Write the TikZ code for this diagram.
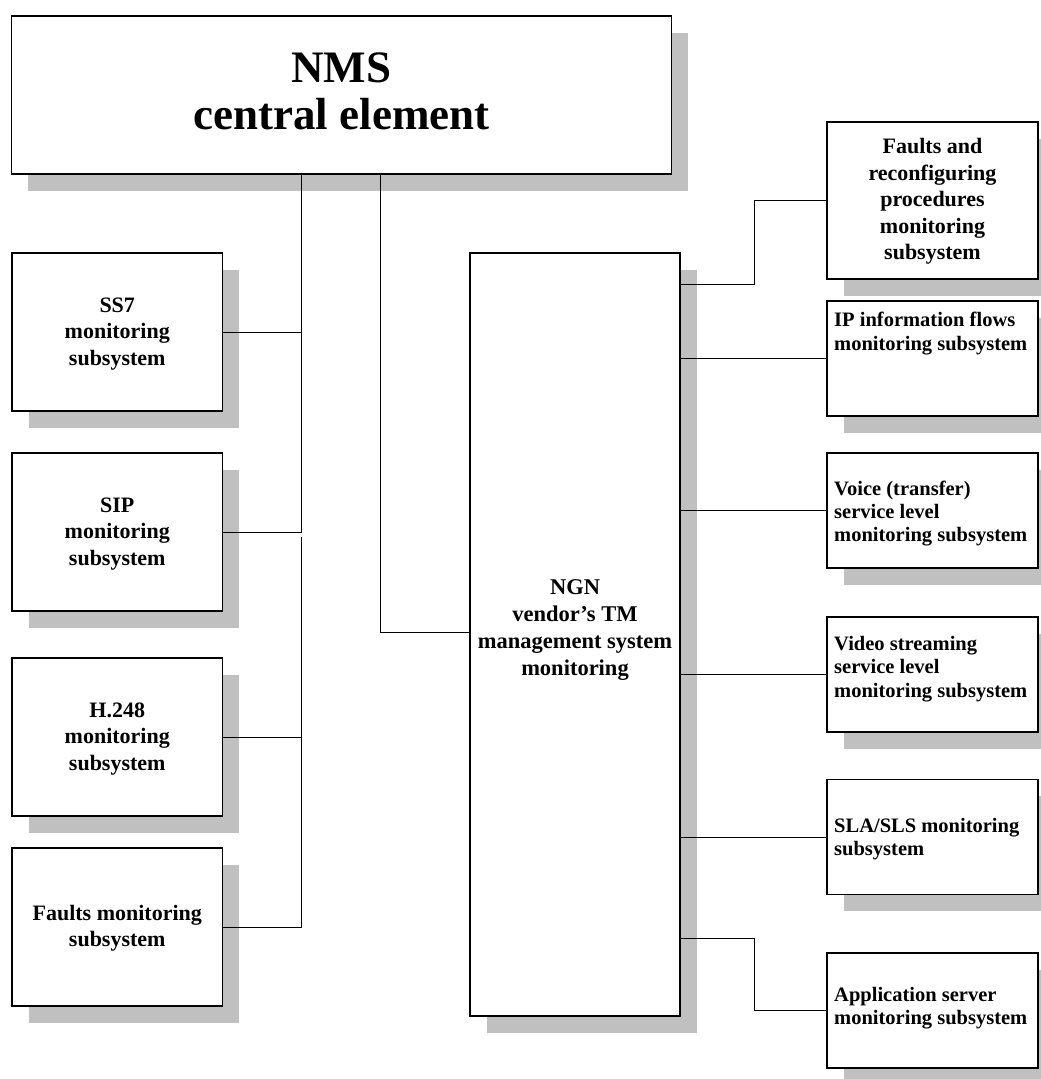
\documentclass[tikz,border=0pt]{standalone}
\usepackage{fontspec}
\setmainfont{Liberation Serif}
\usetikzlibrary{shadows}
\definecolor{shgray}{RGB}{192,192,192}
\begin{document}
\begin{tikzpicture}[x=1pt,y=-1pt,
  box/.style={draw=black,line width=1.2pt,fill=white,inner sep=0pt,outer sep=0pt,
    drop shadow={shadow xshift=16.5pt,shadow yshift=-16.5pt,fill=shgray,draw=none,opacity=1}},
  lbox/.style={box,minimum width=210.5pt,minimum height=158pt},
  rbox/.style={box,minimum width=211pt,minimum height=115pt},
  bigtxt/.style={inner sep=0pt,align=center,font=\bfseries\fontsize{45}{47.7}\selectfont},
  ltxt/.style={inner sep=0pt,align=center,font=\bfseries\fontsize{22}{26.5}\selectfont},
  ngntxt/.style={inner sep=0pt,align=center,font=\bfseries\fontsize{22.5}{26.7}\selectfont},
  rtxt/.style={inner sep=0pt,align=left,anchor=west,font=\bfseries\fontsize{20.5}{23.3}\selectfont},
  conn/.style={draw=black,line width=0.9pt}]
\useasboundingbox (0,0) rectangle (1041,1079);
\fill[white] (0,0) rectangle (1041,1079);

% boxes
\node[box,minimum width=660pt,minimum height=158pt] (nms) at (341.5,95) {};
\node[lbox] (ss7) at (117.25,332) {};
\node[lbox] (sip) at (117.25,532) {};
\node[lbox] (h248) at (117.25,737) {};
\node[lbox] (fltl) at (117.25,927) {};
\node[box,minimum width=210pt,minimum height=763pt] (ngn) at (575,634.5) {};
\node[box,minimum width=211pt,minimum height=157pt] (fltr) at (932.5,200.5) {};
\node[rbox] (ip) at (932.5,358.5) {};
\node[rbox] (voice) at (932.5,510.5) {};
\node[rbox] (video) at (932.5,674.5) {};
\node[rbox] (sla) at (932.5,837.25) {};
\node[rbox] (app) at (932.5,1010.5) {};

% texts
\node[bigtxt] (nmsT) at (341.5,91.3) {NMS\\central element};
\node[ltxt] (ss7T) at (117.25,334) {SS7\\monitoring\\subsystem};
\node[ltxt] (sipT) at (117.25,534) {SIP\\monitoring\\subsystem};
\node[ltxt] (h248T) at (117.25,739) {H.248\\monitoring\\subsystem};
\node[ltxt] (fltlT) at (117.25,928) {Faults monitoring\\subsystem};
\node[ngntxt] (ngnT) at (575,630) {NGN\\vendor’s TM\\management system\\monitoring};
\node[ltxt] (fltrT) at (932.5,201.5) {Faults and\\reconfiguring\\procedures\\monitoring\\subsystem};
\node[rtxt] (ipT) at (834,333.4) {IP information flows\\monitoring subsystem};
\node[rtxt] (voiceT) at (834,513.5) {Voice (transfer)\\service level\\monitoring subsystem};
\node[rtxt] (videoT) at (834,669) {Video streaming\\service level\\monitoring subsystem};
\node[rtxt] (slaT) at (834,839) {SLA/SLS monitoring\\subsystem};
\node[rtxt] (appT) at (834,1008.4) {Application server\\monitoring subsystem};

% connector guide coordinates
\coordinate (trunkL) at (301,0);
\coordinate (trunkR) at (380,0);
\coordinate (gapEnd) at (301,537);
\coordinate (elbow) at (754,0);
\coordinate (ngnA) at (680,284);
\coordinate (ngnB) at (680,938);

% left tree
\draw[conn] (nms.south -| trunkL) |- (sip.east);
\draw[conn] (ss7.east) -- (ss7.east -| trunkL);
\draw[conn] (gapEnd) |- (fltl.east);
\draw[conn] (h248.east) -- (h248.east -| trunkL);
% NMS to NGN
\draw[conn] (nms.south -| trunkR) |- ([yshift=2.5pt]ngn.west);
% right tree
\draw[conn] (ngnA) -- (ngnA -| elbow) -- (elbow |- fltr.west) -- (fltr.west);
\draw[conn] (ip.west -| ngn.east) -- (ip.west);
\draw[conn] (voice.west -| ngn.east) -- (voice.west);
\draw[conn] (video.west -| ngn.east) -- (video.west);
\draw[conn] (sla.west -| ngn.east) -- (sla.west);
\draw[conn] (ngnB) -- (ngnB -| elbow) -- (elbow |- app.west) -- (app.west);
\end{tikzpicture}
\end{document}
